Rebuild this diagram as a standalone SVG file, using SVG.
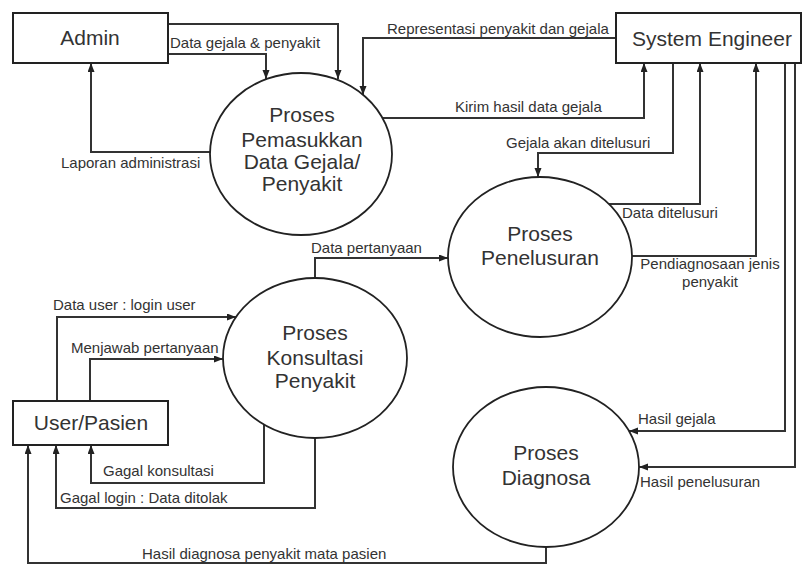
<svg xmlns="http://www.w3.org/2000/svg" width="802" height="566" viewBox="0 0 802 566">
<defs>
<marker id="arr" markerUnits="userSpaceOnUse" markerWidth="10" markerHeight="8" refX="9" refY="3.5" orient="auto">
<path d="M0,0 L9,3.5 L0,7 z" fill="#222"/>
</marker>
<style>
.box{fill:#fff;stroke:#222;stroke-width:2}
.proc{fill:#fff;stroke:#222;stroke-width:1.8}
.ln{fill:none;stroke:#333;stroke-width:2}
.ar{marker-end:url(#arr)}
.nt{font-family:"Liberation Sans",Arial,sans-serif;font-size:21px;fill:#333;text-anchor:middle}
.lb{font-family:"Liberation Sans",Arial,sans-serif;font-size:15px;fill:#333}
</style>
</defs>
<rect width="802" height="566" fill="#fff"/>

<g id="connectors">
<!-- Admin -> Pemasukkan (top) -->
<path class="ln ar" d="M168,24 H338 V79"/>
<!-- Admin -> Pemasukkan: Data gejala & penyakit -->
<path class="ln ar" d="M168,54 H266 V79"/>
<text class="lb" x="170" y="48">Data gejala &amp; penyakit</text>
<!-- Representasi -->
<path class="ln ar" d="M616,38 H363 V95"/>
<text class="lb" x="387" y="34">Representasi penyakit dan gejala</text>
<!-- Laporan administrasi -->
<path class="ln ar" d="M210,152 H91 V63"/>
<text class="lb" x="61" y="168">Laporan administrasi</text>
<!-- Kirim hasil data gejala -->
<path class="ln ar" d="M383,118 H644 V63"/>
<text class="lb" x="455" y="112">Kirim hasil data gejala</text>
<!-- Gejala akan ditelusuri -->
<path class="ln ar" d="M673,63 V153 H538 V177"/>
<text class="lb" x="506" y="148">Gejala akan ditelusuri</text>
<!-- Data ditelusuri -->
<path class="ln ar" d="M609,204 H700 V63"/>
<text class="lb" x="622" y="218">Data ditelusuri</text>
<!-- Pendiagnosaan jenis penyakit -->
<path class="ln ar" d="M632,256 H756 V63"/>
<text class="lb" x="710" y="269" text-anchor="middle">Pendiagnosaan jenis</text>
<text class="lb" x="710" y="287" text-anchor="middle">penyakit</text>
<!-- Hasil gejala -->
<path class="ln ar" d="M785,63 V431 H629"/>
<text class="lb" x="638" y="424">Hasil gejala</text>
<!-- Hasil penelusuran -->
<path class="ln ar" d="M795,63 V467 H639"/>
<text class="lb" x="640" y="487">Hasil penelusuran</text>
<!-- Data pertanyaan -->
<path class="ln ar" d="M315,278 V258 H448"/>
<text class="lb" x="311" y="253">Data pertanyaan</text>
<!-- Data user : login user -->
<path class="ln ar" d="M57,401 V317 H236"/>
<text class="lb" x="53" y="310">Data user : login user</text>
<!-- Menjawab pertanyaan -->
<path class="ln ar" d="M90,401 V359 H223"/>
<text class="lb" x="71" y="353">Menjawab pertanyaan</text>
<!-- Gagal konsultasi -->
<path class="ln ar" d="M264,425 V483 H91 V445"/>
<text class="lb" x="103" y="476">Gagal konsultasi</text>
<!-- Gagal login -->
<path class="ln ar" d="M315,438 V508 H56 V445"/>
<text class="lb" x="60" y="503">Gagal login : Data ditolak</text>
<!-- Hasil diagnosa -->
<path class="ln ar" d="M546,547 V563 H28 V445"/>
<text class="lb" x="142" y="559">Hasil diagnosa penyakit mata pasien</text>
</g>

<g id="admin">
<rect class="box" x="13" y="13" width="155" height="50"/>
<text class="nt" x="90" y="45">Admin</text>
</g>

<g id="system-engineer">
<rect class="box" x="616" y="13" width="185" height="50"/>
<text class="nt" x="712" y="46">System Engineer</text>
</g>

<g id="user-pasien">
<rect class="box" x="13" y="401" width="155" height="44"/>
<text class="nt" x="91" y="430">User/Pasien</text>
</g>

<g id="proses-pemasukkan">
<ellipse class="proc" cx="301" cy="154" rx="91" ry="81"/>
<text class="nt" x="302" y="122">Proses</text>
<text class="nt" x="302" y="147">Pemasukkan</text>
<text class="nt" x="302" y="169">Data Gejala/</text>
<text class="nt" x="302" y="191">Penyakit</text>
</g>

<g id="proses-penelusuran">
<ellipse class="proc" cx="540" cy="257" rx="92" ry="80"/>
<text class="nt" x="540" y="241">Proses</text>
<text class="nt" x="540" y="265">Penelusuran</text>
</g>

<g id="proses-konsultasi">
<ellipse class="proc" cx="315" cy="358" rx="92" ry="80"/>
<text class="nt" x="315" y="340">Proses</text>
<text class="nt" x="315" y="365">Konsultasi</text>
<text class="nt" x="315" y="388">Penyakit</text>
</g>

<g id="proses-diagnosa">
<ellipse class="proc" cx="546" cy="467" rx="93" ry="80"/>
<text class="nt" x="546" y="460">Proses</text>
<text class="nt" x="546" y="485">Diagnosa</text>
</g>
</svg>
